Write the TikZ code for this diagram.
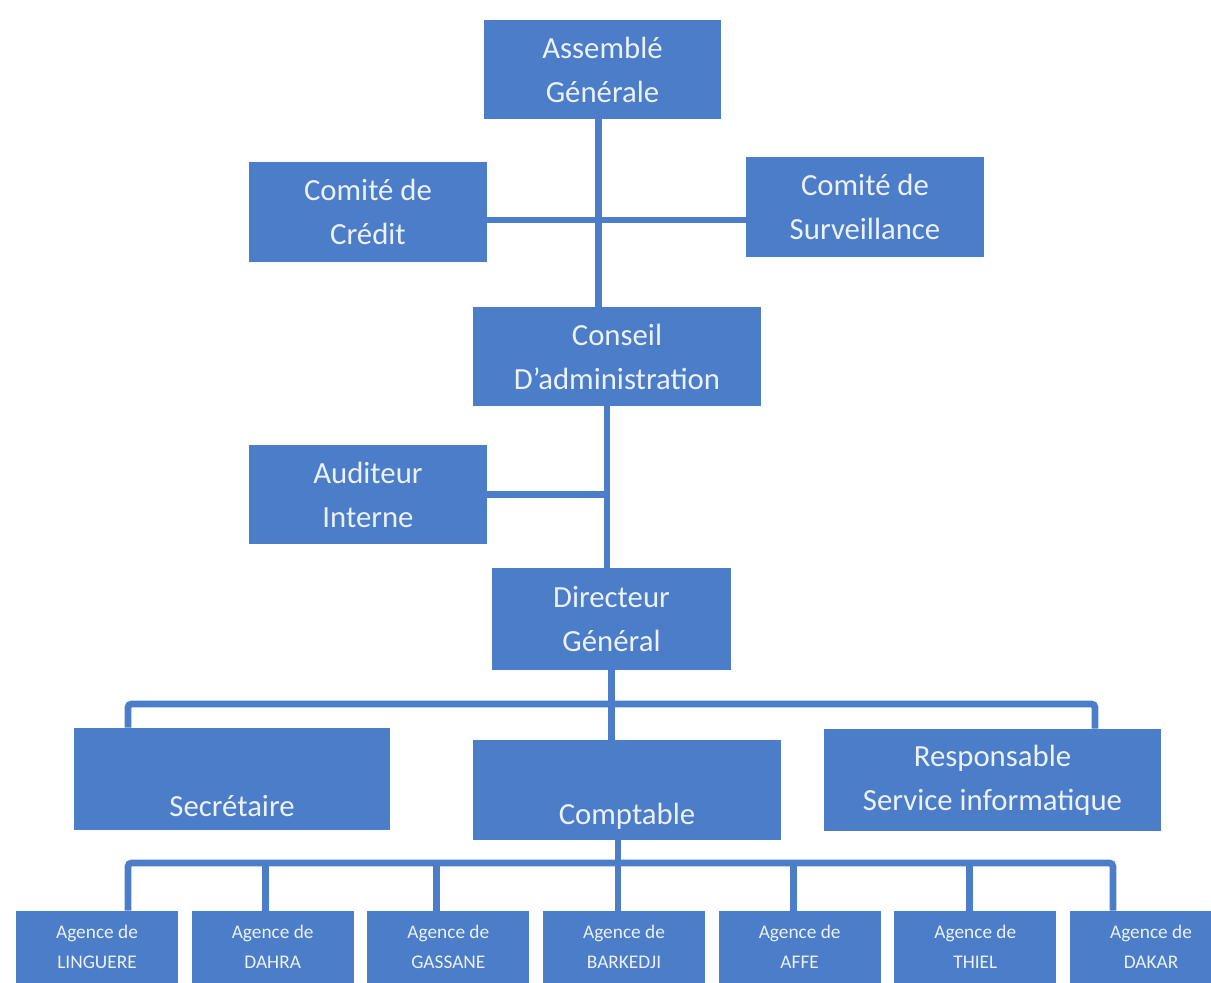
\documentclass[tikz,border=0pt]{standalone}
\usepackage{fontspec}
\setmainfont{Carlito}
\usepackage{tikz}
\usetikzlibrary{positioning}
\definecolor{orgblue}{RGB}{75,125,200}
\definecolor{orgtext}{RGB}{236,241,250}
\tikzstyle{box} = [rectangle, fill=orgblue, text=orgtext, align=center, inner sep=0pt, font=\fontsize{17.5}{25}\selectfont]
\tikzstyle{agence} = [rectangle, fill=orgblue, text=orgtext, align=center, inner sep=0pt, minimum width=3.24cm, minimum height=1.44cm, font=\fontsize{11}{17}\selectfont]
\tikzstyle{link} = [draw=orgblue, line width=3.8pt]

\begin{document}
\begin{tikzpicture}[x=0.02cm, y=-0.02cm]
    \useasboundingbox[fill=white] (0,0) rectangle (1211,983);

    % top of the chart
    \node (ag) [box, minimum width=4.74cm, minimum height=1.98cm] at (602.5,69.5) {Assemblé\\Générale};
    \node (credit) [box, minimum width=4.76cm, minimum height=2cm] at (368,212) {Comité de\\Crédit};
    \node (surv) [box, minimum width=4.76cm, minimum height=2cm] at (865,207) {Comité de\\Surveillance};
    \node (conseil) [box, minimum width=5.78cm, minimum height=1.98cm] at (617,356.5) {Conseil\\D’administration};
    \node (audit) [box, minimum width=4.76cm, minimum height=1.98cm] at (368,494.5) {Auditeur\\Interne};
    \node (dg) [box, minimum width=4.78cm, minimum height=2.04cm] at (611.5,619) {Directeur\\Général};

    % services
    \node (secr) [box, minimum width=6.32cm, minimum height=2.04cm] at (232,779) {\strut\\Secrétaire};
    \node (compt) [box, minimum width=6.16cm, minimum height=2cm] at (627,790) {\strut\\Comptable};
    \node (resp) [box, minimum width=6.74cm, minimum height=2.04cm] at (992.5,780) {Responsable\\Service informatique};

    % agencies
    \node (a1) [agence] at (97,947) {Agence de\\LINGUERE};
    \node (a2) [agence, right=0.26cm of a1] {Agence de\\DAHRA};
    \node (a3) [agence, right=0.26cm of a2] {Agence de\\GASSANE};
    \node (a4) [agence, right=0.26cm of a3] {Agence de\\BARKEDJI};
    \node (a5) [agence, right=0.26cm of a4] {Agence de\\AFFE};
    \node (a6) [agence, right=0.26cm of a5] {Agence de\\THIEL};
    \node (a7) [agence, right=0.26cm of a6] {Agence de\\DAKAR};

    \coordinate (cd) at ([xshift=-0.2cm]conseil.south);
    \coordinate (cb) at ([xshift=-0.18cm]compt.south);
    \coordinate (bus1L) at (128,704);
    \coordinate (bus1R) at (1095,704);
    \coordinate (bus2L) at (128,863);
    \coordinate (bus2R) at (1113,863);

    \draw[link] ([xshift=-0.08cm]ag.south) -- ([xshift=-0.08cm]ag.south |- conseil.north);
    \draw[link] ([yshift=-0.16cm]credit.east) -- ([yshift=-0.16cm]credit.east -| surv.west);
    \draw[link] (cd) -- (cd |- dg.north);
    \draw[link] (audit.east) -- (audit.east -| cd);

    \draw[link] (dg.south) -- (dg.south |- compt.north);
    \draw[link, rounded corners=2pt] (bus1L |- secr.north) -- (bus1L) -- (bus1R) -- (bus1R |- resp.north);

    \draw[link] (cb) -- (cb |- a4.north);
    \draw[link, rounded corners=2pt] (bus2L |- a1.north) -- (bus2L) -- (bus2R) -- (bus2R |- a7.north);
    \draw[link] ([xshift=-0.14cm]a2.north) -- ([xshift=-0.14cm]a2.north |- bus2L);
    \draw[link] ([xshift=-0.24cm]a3.north) -- ([xshift=-0.24cm]a3.north |- bus2L);
    \draw[link] ([xshift=-0.12cm]a5.north) -- ([xshift=-0.12cm]a5.north |- bus2L);
    \draw[link] ([xshift=-0.12cm]a6.north) -- ([xshift=-0.12cm]a6.north |- bus2L);
\end{tikzpicture}
\end{document}
